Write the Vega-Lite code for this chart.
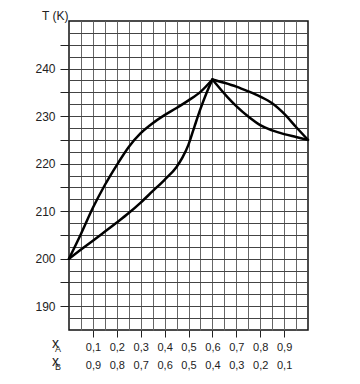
{
  "$schema": "https://vega.github.io/schema/vega-lite/v6.json",
  "autosize": {"type": "none"},
  "padding": {"left": 69, "top": 21, "right": 52, "bottom": 54},
  "width": 239,
  "height": 309,
  "background": "white",
  "config": {
    "view": {"stroke": "#111", "strokeWidth": 1.5},
    "font": "Liberation Sans",
    "axis": {"domain": false, "labelColor": "#222", "tickColor": "#222", "titleColor": "#222", "labelFont": "Liberation Sans", "titleFont": "Liberation Sans"}
  },
  "layer": [
    {
      "data": {
        "values": [
          {"curve": "left upper", "x": 0.0, "T": 200.0},
          {"curve": "left upper", "x": 0.05, "T": 205.2},
          {"curve": "left upper", "x": 0.1, "T": 210.7},
          {"curve": "left upper", "x": 0.15, "T": 215.5},
          {"curve": "left upper", "x": 0.2, "T": 219.7},
          {"curve": "left upper", "x": 0.25, "T": 223.5},
          {"curve": "left upper", "x": 0.3, "T": 226.4},
          {"curve": "left upper", "x": 0.35, "T": 228.5},
          {"curve": "left upper", "x": 0.4, "T": 230.2},
          {"curve": "left upper", "x": 0.45, "T": 231.7},
          {"curve": "left upper", "x": 0.5, "T": 233.3},
          {"curve": "left upper", "x": 0.55, "T": 235.1},
          {"curve": "left upper", "x": 0.6, "T": 237.7},
          {"curve": "left lower", "x": 0.0, "T": 200.0},
          {"curve": "left lower", "x": 0.1, "T": 203.8},
          {"curve": "left lower", "x": 0.2, "T": 207.6},
          {"curve": "left lower", "x": 0.25, "T": 209.6},
          {"curve": "left lower", "x": 0.3, "T": 211.8},
          {"curve": "left lower", "x": 0.35, "T": 214.2},
          {"curve": "left lower", "x": 0.4, "T": 216.6},
          {"curve": "left lower", "x": 0.45, "T": 219.3},
          {"curve": "left lower", "x": 0.475, "T": 221.3},
          {"curve": "left lower", "x": 0.5, "T": 224.0},
          {"curve": "left lower", "x": 0.525, "T": 227.8},
          {"curve": "left lower", "x": 0.55, "T": 231.5},
          {"curve": "left lower", "x": 0.575, "T": 234.8},
          {"curve": "left lower", "x": 0.6, "T": 237.7},
          {"curve": "right upper", "x": 0.6, "T": 237.7},
          {"curve": "right upper", "x": 0.65, "T": 237.0},
          {"curve": "right upper", "x": 0.7, "T": 236.2},
          {"curve": "right upper", "x": 0.75, "T": 235.2},
          {"curve": "right upper", "x": 0.8, "T": 234.1},
          {"curve": "right upper", "x": 0.85, "T": 232.7},
          {"curve": "right upper", "x": 0.9, "T": 230.5},
          {"curve": "right upper", "x": 0.95, "T": 227.7},
          {"curve": "right upper", "x": 1.0, "T": 225.0},
          {"curve": "right lower", "x": 0.6, "T": 237.7},
          {"curve": "right lower", "x": 0.663, "T": 234.0},
          {"curve": "right lower", "x": 0.7, "T": 232.1},
          {"curve": "right lower", "x": 0.75, "T": 229.9},
          {"curve": "right lower", "x": 0.8, "T": 228.1},
          {"curve": "right lower", "x": 0.85, "T": 227.0},
          {"curve": "right lower", "x": 0.9, "T": 226.2},
          {"curve": "right lower", "x": 0.95, "T": 225.6},
          {"curve": "right lower", "x": 1.0, "T": 225.0}
        ]
      },
      "mark": {"type": "line", "interpolate": "monotone", "stroke": "#000", "strokeWidth": 2.5, "strokeCap": "round", "strokeJoin": "round"},
      "encoding": {
        "x": {
          "field": "x", "type": "quantitative",
          "scale": {"domain": [0, 1], "nice": false, "zero": false},
          "axis": {
            "title": null,
            "values": [0.05, 0.1, 0.15, 0.2, 0.25, 0.3, 0.35, 0.4, 0.45, 0.5, 0.55, 0.6, 0.65, 0.7, 0.75, 0.8, 0.85, 0.9, 0.95],
            "tickCount": 100,
            "grid": true, "gridColor": "#666", "gridWidth": 1,
            "tickSize": 7, "tickWidth": 1,
            "tickOpacity": {"condition": {"test": "round(datum.value*100) % 10 == 0", "value": 1}, "value": 0},
            "labelExpr": "round(datum.value*100) % 10 == 0 ? [replace(format(datum.value, '.1f'), '.', ','), replace(format(1 - datum.value, '.1f'), '.', ',')] : ''",
            "labelFontSize": 11, "labelLineHeight": 18, "labelPadding": 4,
            "labelOverlap": false, "labelFlush": false, "labelBound": false
          }
        },
        "y": {
          "field": "T", "type": "quantitative",
          "scale": {"domain": [185, 250], "nice": false, "zero": false},
          "axis": {
            "title": "T (K)", "titleAngle": 0, "titleAlign": "right", "titleBaseline": "alphabetic",
            "titleX": -1, "titleY": -2, "titleFontSize": 12, "titleFontWeight": "normal",
            "values": [187.5, 190, 192.5, 195, 197.5, 200, 202.5, 205, 207.5, 210, 212.5, 215, 217.5, 220, 222.5, 225, 227.5, 230, 232.5, 235, 237.5, 240, 242.5, 245, 247.5],
            "tickCount": 100,
            "grid": true, "gridColor": "#444", "gridWidth": 1,
            "tickSize": 9, "tickWidth": 1,
            "tickOpacity": {"condition": {"test": "datum.value % 5 == 0", "value": 1}, "value": 0},
            "labelExpr": "datum.value % 10 == 0 ? format(datum.value, 'd') : ''",
            "labelFontSize": 12, "labelPadding": 5, "labelOverlap": false, "labelBound": false
          }
        },
        "detail": {"field": "curve", "type": "nominal"}
      }
    },
    {
      "data": {"values": [{"label": "x"}]},
      "mark": {"type": "text", "text": ["x", "x"], "fontSize": 14, "lineHeight": 18, "align": "center", "baseline": "alphabetic", "dx": -13.5, "dy": 18, "color": "#222"},
      "encoding": {
        "x": {"datum": 0, "type": "quantitative"},
        "y": {"datum": 185, "type": "quantitative"}
      }
    },
    {
      "data": {"values": [{"label": "A/B"}]},
      "mark": {"type": "text", "text": ["A", "B"], "fontSize": 9, "lineHeight": 18, "align": "center", "baseline": "alphabetic", "dx": -11, "dy": 22, "color": "#222"},
      "encoding": {
        "x": {"datum": 0, "type": "quantitative"},
        "y": {"datum": 185, "type": "quantitative"}
      }
    }
  ]
}
